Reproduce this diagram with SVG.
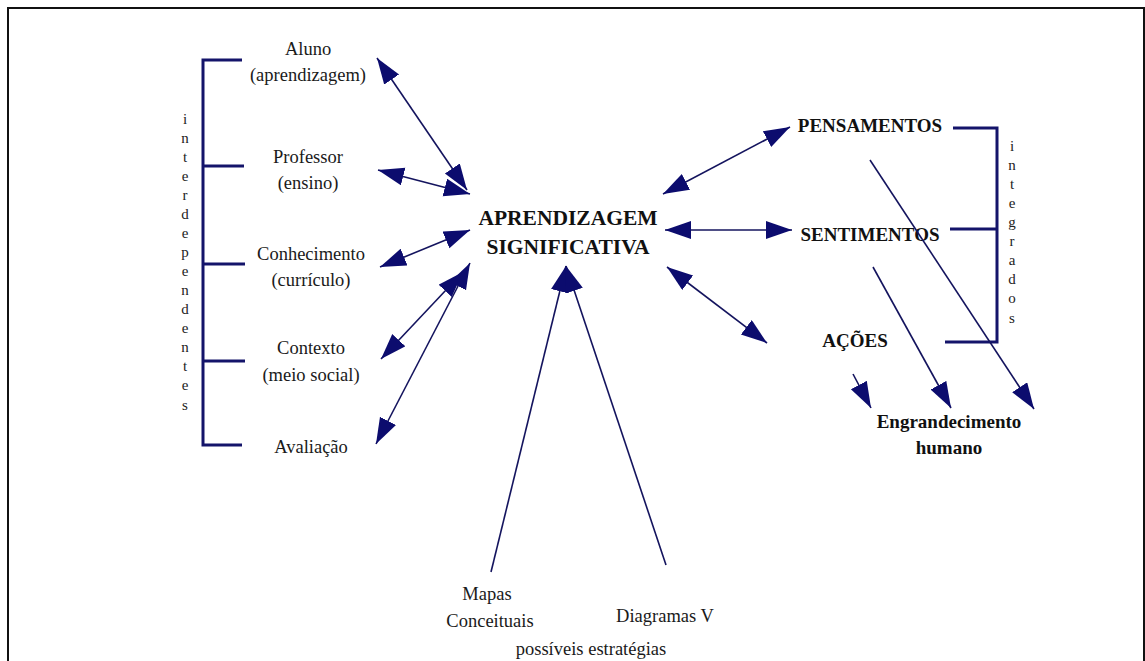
<svg xmlns="http://www.w3.org/2000/svg" width="1145" height="661" viewBox="0 0 1145 661">
<defs>
<style>
text{font-family:'Liberation Serif','DejaVu Serif','Times New Roman',serif}
.t{font-size:18.5px;fill:#1a1a1a;text-anchor:middle}
.b{font-size:19px;font-weight:bold;fill:#111;text-anchor:middle}
.c{font-size:21.5px;font-weight:bold;fill:#111;text-anchor:middle}
.v{font-size:15px;fill:#222;text-anchor:middle}
.br{fill:none;stroke:#14146a;stroke-width:3}
.ln{fill:none;stroke:#14145e;stroke-width:1.6}
.dbl{marker-start:url(#ah);marker-end:url(#ah)}
.one{marker-end:url(#ah)}
</style>
<marker id="ah" markerUnits="userSpaceOnUse" markerWidth="30" markerHeight="20" refX="26" refY="9" orient="auto-start-reverse">
<path d="M0,0 L26,9 L0,18 Z" fill="#0c0c6e"/>
</marker>
</defs>
<rect width="1145" height="661" fill="#fff"/>
<path d="M8,661 V8 H1144 V661" fill="none" stroke="#111" stroke-width="2"/>

<g id="left-bracket">
<path class="br" d="M242,60 H203 V445 H242 M203,166 H244 M203,264 H245 M203,361 H245"/>
<text class="v" font-family="Liberation Serif, serif"><tspan x="185" y="124">i</tspan><tspan x="185" y="143">n</tspan><tspan x="185" y="162">t</tspan><tspan x="185" y="181">e</tspan><tspan x="185" y="200">r</tspan><tspan x="185" y="219">d</tspan><tspan x="185" y="238">e</tspan><tspan x="185" y="257">p</tspan><tspan x="185" y="276">e</tspan><tspan x="185" y="295">n</tspan><tspan x="185" y="314">d</tspan><tspan x="185" y="333">e</tspan><tspan x="185" y="352">n</tspan><tspan x="185" y="371">t</tspan><tspan x="185" y="390">e</tspan><tspan x="185" y="410">s</tspan></text>
</g>

<g id="aluno"><text class="t" x="308" y="55">Aluno</text><text class="t" x="308" y="81">(aprendizagem)</text></g>
<g id="professor"><text class="t" x="308" y="163">Professor</text><text class="t" x="308" y="189">(ensino)</text></g>
<g id="conhecimento"><text class="t" x="311" y="260">Conhecimento</text><text class="t" x="311" y="286">(currículo)</text></g>
<g id="contexto"><text class="t" x="311" y="354">Contexto</text><text class="t" x="311" y="381">(meio social)</text></g>
<g id="avaliacao"><text class="t" x="311" y="453">Avaliação</text></g>

<g id="aprendizagem"><text class="c" x="568" y="225">APRENDIZAGEM</text><text class="c" x="568" y="254">SIGNIFICATIVA</text></g>

<g id="pensamentos"><text class="b" x="870" y="132">PENSAMENTOS</text></g>
<g id="sentimentos"><text class="b" x="870" y="241">SENTIMENTOS</text></g>
<g id="acoes"><text class="b" x="855" y="347">AÇÕES</text></g>
<g id="engrandecimento"><text class="b" x="949" y="428">Engrandecimento</text><text class="b" x="949" y="454">humano</text></g>

<g id="right-bracket">
<path class="br" d="M953,128 H997 V342 H945 M950,229 H997"/>
<text class="v"><tspan x="1012" y="151">i</tspan><tspan x="1012" y="170">n</tspan><tspan x="1012" y="189">t</tspan><tspan x="1012" y="208">e</tspan><tspan x="1012" y="227">g</tspan><tspan x="1012" y="246">r</tspan><tspan x="1012" y="265">a</tspan><tspan x="1012" y="284">d</tspan><tspan x="1012" y="303">o</tspan><tspan x="1012" y="323">s</tspan></text>
</g>

<g id="mapas"><text class="t" x="487" y="600">Mapas</text><text class="t" x="490" y="627">Conceituais</text></g>
<g id="diagramas"><text class="t" x="665" y="622">Diagramas V</text></g>
<g id="estrategias"><text class="t" x="591" y="655">possíveis estratégias</text></g>

<g id="connectors">
<line class="ln dbl" x1="377" y1="58" x2="467" y2="190"/>
<line class="ln dbl" x1="378" y1="170" x2="470" y2="194"/>
<line class="ln dbl" x1="380" y1="267" x2="470" y2="230"/>
<line class="ln dbl" x1="381" y1="359" x2="463" y2="272"/>
<line class="ln dbl" x1="376" y1="444" x2="470" y2="263"/>
<line class="ln one" x1="491" y1="572" x2="566" y2="266"/>
<line class="ln one" x1="666" y1="565" x2="566" y2="266"/>
<line class="ln dbl" x1="663" y1="194" x2="790" y2="127"/>
<line class="ln dbl" x1="665" y1="230" x2="792" y2="230"/>
<line class="ln dbl" x1="667" y1="267" x2="767" y2="343"/>
<line class="ln one" x1="870" y1="160" x2="1034" y2="409"/>
<line class="ln one" x1="873" y1="267" x2="951" y2="408"/>
<line class="ln one" x1="853" y1="374" x2="871" y2="408"/>
</g>
</svg>
